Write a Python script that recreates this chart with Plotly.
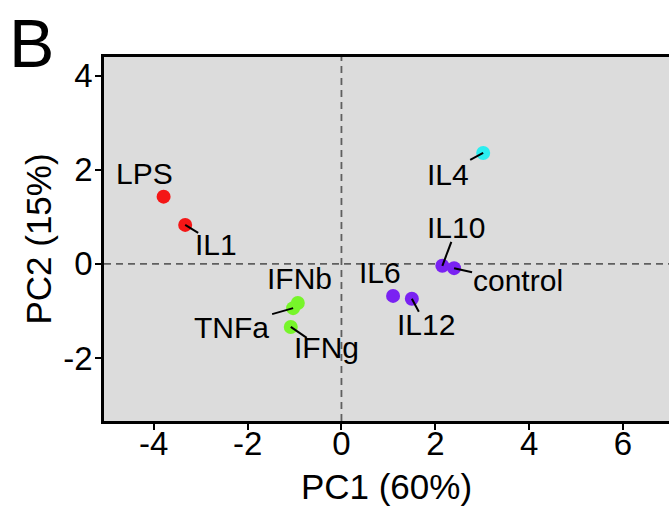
import plotly.graph_objects as go

# ---- data ----
names = ["LPS", "IL1", "IFNb", "TNFa", "IFNg", "IL4", "IL10", "control", "IL6", "IL12"]
pc1 = [-3.79, -3.33, -0.93, -1.03, -1.08, 3.02, 2.15, 2.40, 1.10, 1.50]
pc2 = [1.43, 0.83, -0.83, -0.94, -1.34, 2.36, -0.04, -0.09, -0.68, -0.74]
groups = ["inflam", "inflam", "ifn", "ifn", "ifn", "il4", "rest", "rest", "rest", "rest"]
x_title = "PC1 (60%)"
y_title = "PC2 (15%)"
x_ticks = [-4, -2, 0, 2, 4, 6]
x_ticktext = ["-4", "-2", "0", "2", "4", "6"]
y_ticks = [-2, 0, 2, 4]
y_ticktext = ["-2", "0", "2", "4"]

# ---- styles ----
group_colors = {"inflam": "#F41616", "ifn": "#77F52A", "il4": "#2BEEF0", "rest": "#7A22F2"}
# label offsets in pixels (text dx, dy ; leader line end dx, dy or None), dy positive = up
label_style = {
    "LPS": (-19, 23, None),
    "IL1": (31, -20, (13, -8)),
    "IFNb": (2, 24, None),
    "TNFa": (-62, -19, (-21, -6)),
    "IFNg": (36, -21, (16, -11)),
    "IL4": (-35, -22, (-13, -7)),
    "IL10": (14, 38, (9, 24)),
    "control": (64, -12, (18, -4)),
    "IL6": (-13, 23, None),
    "IL12": (14, -26, (7, -13)),
}
FONT = "Liberation Sans, Arial, sans-serif"

fig = go.Figure()

# dashed zero lines
fig.add_shape(type="line", xref="x", yref="y domain", x0=0, x1=0, y0=0, y1=1,
              line=dict(color="#5f5f5f", width=1.8, dash="7px,5px"), layer="below")
fig.add_shape(type="line", xref="x domain", yref="y", x0=0, x1=1, y0=0, y1=0,
              line=dict(color="#5f5f5f", width=1.8, dash="7px,5px"), layer="below")

# leader lines (pixel offsets anchored at each point)
for n, x, y in zip(names, pc1, pc2):
    tdx, tdy, ln = label_style[n]
    if ln is not None:
        fig.add_shape(type="line", xref="x", yref="y", xsizemode="pixel", ysizemode="pixel",
                      xanchor=x, yanchor=y, x0=0, y0=0, x1=ln[0], y1=ln[1],
                      line=dict(color="black", width=2), layer="above")

fig.add_trace(go.Scatter(
    x=pc1, y=pc2, mode="markers",
    marker=dict(size=14, color=[group_colors[g] for g in groups], line=dict(width=0)),
    hoverinfo="text", text=names, showlegend=False,
))

# labels
for n, x, y in zip(names, pc1, pc2):
    tdx, tdy, ln = label_style[n]
    fig.add_annotation(x=x, y=y, xref="x", yref="y", text=n, showarrow=False,
                       xshift=tdx, yshift=tdy, xanchor="center", yanchor="middle",
                       font=dict(family=FONT, size=30, color="black"))

# panel letter
fig.add_annotation(x=-97 / 565, y=1 + 14 / 364, xref="paper", yref="paper", text="B",
                   showarrow=False, xanchor="left", yanchor="middle",
                   font=dict(family=FONT, size=68, color="black"))

fig.update_layout(
    width=669, height=513,
    margin=dict(l=104, r=0, t=57, b=92),
    paper_bgcolor="white", plot_bgcolor="#DCDCDC",
    font=dict(family=FONT, color="black"),
    xaxis=dict(range=[-5.06, 6.98], tickvals=x_ticks, ticktext=x_ticktext,
               showgrid=False, zeroline=False,
               showline=True, linecolor="black", linewidth=2.5, mirror=True,
               ticks="outside", ticklen=6, tickwidth=1.5, tickcolor="black",
               ticklabelstandoff=-14,
               tickfont=dict(size=33, family=FONT),
               title=dict(text=x_title, font=dict(size=35, family=FONT), standoff=14)),
    yaxis=dict(range=[-3.34, 4.40], tickvals=y_ticks, ticktext=y_ticktext,
               showgrid=False, zeroline=False,
               showline=True, linecolor="black", linewidth=2.5,
               ticks="outside", ticklen=6, tickwidth=1.5, tickcolor="black",
               ticklabelstandoff=-4,
               tickfont=dict(size=33, family=FONT),
               title=dict(text=y_title, font=dict(size=35, family=FONT), standoff=2)),
)

fig.write_html("out.html")
